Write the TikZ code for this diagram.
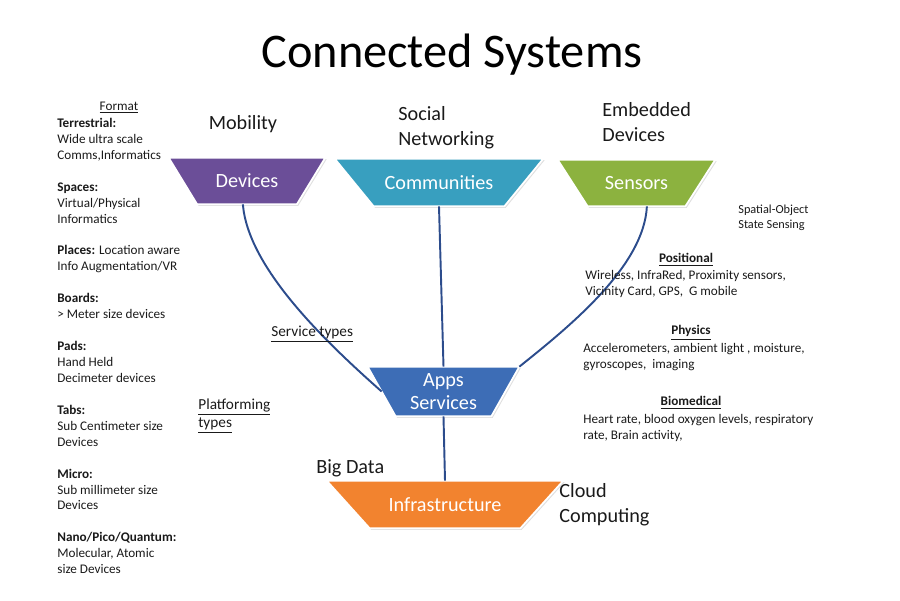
\documentclass[tikz,border=0pt]{standalone}
\usepackage{fontspec}
\setmainfont{Carlito}
\usetikzlibrary{backgrounds, shadows}
\definecolor{cpurple}{HTML}{6B4E98}
\definecolor{cteal}{HTML}{389FBF}
\definecolor{cgreen}{HTML}{8CB23F}
\definecolor{cblue}{HTML}{3D6DB6}
\definecolor{corange}{HTML}{F2832F}
\definecolor{cnavy}{HTML}{2C4C8C}
\definecolor{ctext}{HTML}{1A1A1A}
\tikzset{
  every picture/.style={x=0.02cm, y=-0.02cm},
  tier/.style={rectangle, text=white, align=center, inner sep=0pt, font=\fontsize{11.5}{13}\selectfont},
  tierfill/.style={fill=#1, draw=white, line width=1pt, drop shadow={opacity=.25, shadow xshift=.8pt, shadow yshift=-.8pt}},
  link/.style={draw=cnavy, line width=1.1pt},
  big/.style={font=\fontsize{11.5}{14}\selectfont, text=ctext, align=left, inner sep=0pt},
  small/.style={font=\fontsize{7.5}{9.07}\selectfont, text=ctext, align=left, inner sep=0pt},
  head/.style={small, font=\fontsize{7.5}{9.07}\selectfont\bfseries},
  mid/.style={font=\fontsize{8.7}{10.2}\selectfont, text=ctext, align=left, inner sep=0pt},
}
% #1 node, #2 colour, #3 slant of each side (px)
\newcommand{\tiershape}[3]{%
  \coordinate (#1 tl) at ([xshift=-#3*0.02cm]#1.north west);
  \coordinate (#1 tr) at ([xshift=#3*0.02cm]#1.north east);
  \coordinate (#1 br) at ([xshift=-#3*0.02cm]#1.south east);
  \coordinate (#1 bl) at ([xshift=#3*0.02cm]#1.south west);
  \begin{scope}[on background layer]
    \path[tierfill=#2] (#1 tl) -- (#1 tr) -- (#1 br) -- (#1 bl) -- cycle;
  \end{scope}}

\begin{document}
\begin{tikzpicture}
  \useasboundingbox (0,0) rectangle (900,600);
  \node[font=\fontsize{27.5}{33}\selectfont, text=black, anchor=base] (title) at (452,67) {Connected Systems};
  \node[tier, minimum width=2.55cm, minimum height=0.92cm] (dev) at (247,181) {Devices};
  \node[tier, minimum width=3.38cm, minimum height=0.94cm] (com) at (439,182.5) {Communities};
  \node[tier, minimum width=2.54cm, minimum height=0.92cm] (sen) at (636.5,183) {Sensors};
  \node[tier, minimum width=2.46cm, minimum height=0.98cm] (apps) at (443.5,391.5) {Apps\\Services};
  \node[tier, minimum width=3.86cm, minimum height=0.94cm] (infra) at (445,504.5) {Infrastructure};
  \tiershape{dev}{cpurple}{14.25}
  \tiershape{com}{cteal}{19.5}
  \tiershape{sen}{cgreen}{15}
  \tiershape{apps}{cblue}{14}
  \tiershape{infra}{corange}{21.5}
  \draw[link] (dev.-100) .. controls +(5,62) and +(-60,-53) .. (apps.west);
  \draw[link] (com.south) -- (apps.north);
  \draw[link] (sen.-66) .. controls +(-3,60) and +(50,-40) .. (apps tr);
  \draw[link] (apps.south) -- (infra.north);
  \node[big, anchor=base] (mob) at (243,129) {Mobility};
  \node[big, anchor=west] (soc) at (398,128) {Social\\Networking};
  \node[big, anchor=west] (emb) at (602,122) {Embedded\\Devices};
  \node[big, anchor=west] (bigd) at (316,468) {Big Data};
  \node[big, anchor=west] (cloud) at (559,505) {Cloud\\Computing};
  \node[mid, anchor=west] (svc) at (271,334) {\underline{Service types}};
  \node[mid, anchor=west] (plat) at (198,416) {\underline{Platforming}\\\underline{types}};
  \node[small, anchor=base] (fmt) at (119,110) {\underline{Format}};
  \node[small, anchor=west] (scales) at (57,346) {\textbf{Terrestrial:}\\Wide ultra scale\\Comms,Informatics\\[9.07pt]
    \textbf{Spaces:}\\Virtual/Physical\\Informatics\\[9.07pt]
    \textbf{Places:} Location aware\\Info Augmentation/VR\\[9.07pt]
    \textbf{Boards:}\\> Meter size devices\\[9.07pt]
    \textbf{Pads:}\\Hand Held\\Decimeter devices\\[9.07pt]
    \textbf{Tabs:}\\Sub Centimeter size\\Devices\\[9.07pt]
    \textbf{Micro:}\\Sub millimeter size\\Devices\\[9.07pt]
    \textbf{Nano/Pico/Quantum:}\\Molecular, Atomic\\size Devices};
  \node[small, font=\fontsize{7}{8.5}\selectfont, anchor=west] (spat) at (738,217.5) {Spatial-Object\\State Sensing};
  \node[head] (pos) at (686,260) {\underline{Positional}};
  \node[small, anchor=west] (posl) at (585,284) {Wireless, InfraRed, Proximity sensors,\\Vicinity Card, GPS,~~G mobile};
  \node[head] (phy) at (691,333) {\underline{Physics}};
  \node[small, anchor=west] (phyl) at (583,357) {Accelerometers, ambient light , moisture,\\gyroscopes,~~imaging};
  \node[head] (bio) at (691,403) {\underline{Biomedical}};
  \node[small, anchor=west] (biol) at (583,428) {Heart rate, blood oxygen levels, respiratory\\rate, Brain activity,};
\end{tikzpicture}
\end{document}
